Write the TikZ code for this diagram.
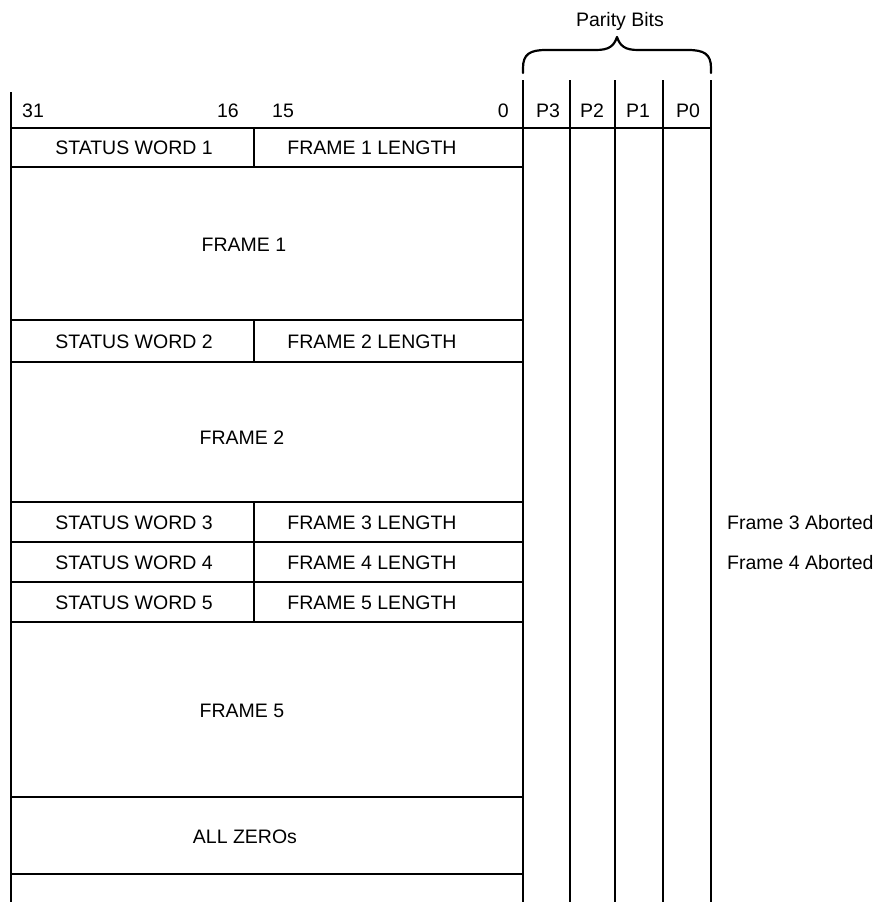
\documentclass[tikz,border=0pt]{standalone}
\usepackage{fontspec}
\setmainfont{Liberation Sans}
\begin{document}
\begin{tikzpicture}[x=1pt,y=-1pt,
  cell/.style={draw, line width=1.7pt, inner sep=0pt, outer sep=0pt, anchor=north west},
  ln/.style={line width=1.7pt},
  txt/.style={inner sep=0pt, anchor=base, font=\fontsize{19.5}{23}\selectfont},
  ltxt/.style={inner sep=0pt, anchor=base west, font=\fontsize{19.5}{23}\selectfont}]
\useasboundingbox (0,0) rectangle (876,902);
% rows
\node[cell, minimum width=243pt, minimum height=39pt] (sw1) at (11,128) {};
\node[cell, minimum width=269pt, minimum height=39pt] (len1) at (254,128) {};
\node[cell, minimum width=512pt, minimum height=153pt] (fr1) at (11,167) {};
\node[cell, minimum width=243pt, minimum height=42pt] (sw2) at (11,320) {};
\node[cell, minimum width=269pt, minimum height=42pt] (len2) at (254,320) {};
\node[cell, minimum width=512pt, minimum height=140pt] (fr2) at (11,362) {};
\node[cell, minimum width=243pt, minimum height=40pt] (sw3) at (11,502) {};
\node[cell, minimum width=269pt, minimum height=40pt] (len3) at (254,502) {};
\node[cell, minimum width=243pt, minimum height=40pt] (sw4) at (11,542) {};
\node[cell, minimum width=269pt, minimum height=40pt] (len4) at (254,542) {};
\node[cell, minimum width=243pt, minimum height=40pt] (sw5) at (11,582) {};
\node[cell, minimum width=269pt, minimum height=40pt] (len5) at (254,582) {};
\node[cell, minimum width=512pt, minimum height=175pt] (fr5) at (11,622) {};
\node[cell, minimum width=512pt, minimum height=77pt] (zeros) at (11,797) {};
% texts in cells
\node[txt] (tsw1) at (134,154) {STATUS WORD 1};
\node[txt] (tlen1) at (372,154) {FRAME 1 LENGTH};
\node[txt] (tfr1) at (244,251) {FRAME 1};
\node[txt] (tsw2) at (134,348) {STATUS WORD 2};
\node[txt] (tlen2) at (372,348) {FRAME 2 LENGTH};
\node[txt] (tfr2) at (242,444) {FRAME 2};
\node[txt] (tsw3) at (134,529) {STATUS WORD 3};
\node[txt] (tlen3) at (372,529) {FRAME 3 LENGTH};
\node[txt] (tsw4) at (134,569) {STATUS WORD 4};
\node[txt] (tlen4) at (372,569) {FRAME 4 LENGTH};
\node[txt] (tsw5) at (134,609) {STATUS WORD 5};
\node[txt] (tlen5) at (372,609) {FRAME 5 LENGTH};
\node[txt] (tfr5) at (242,717) {FRAME 5};
\node[txt] (tzeros) at (245,843) {ALL ZEROs};
% header
\node[txt, anchor=base west] (b31) at (22,117) {31};
\node[txt, anchor=base east] (b16) at (239,117) {16};
\node[txt, anchor=base west] (b15) at (272,117) {15};
\node[txt, anchor=base east] (b0) at (509,117) {0};
\node[txt] (p3) at (548,117) {P3};
\node[txt] (p2) at (592,117) {P2};
\node[txt] (p1) at (638,117) {P1};
\node[txt] (p0) at (688,117) {P0};
\node[txt] (parity) at (620,27) {Parity Bits};
% side notes
\node[ltxt] (ab3) at (727,529) {Frame 3 Aborted};
\node[ltxt] (ab4) at (727,569) {Frame 4 Aborted};
% outer and parity lines
\coordinate (ltop) at (11,92);
\coordinate (lbot) at (11,902);
\coordinate (htr) at (711,128);
\coordinate (htl) at (11,128);
\draw[ln] (ltop) -- (lbot);
\draw[ln] (htl) -- (htr);
\foreach \xx/\nm in {523/a,570/b,615/c,663/d,711/e}{
  \coordinate (t\nm) at (\xx,80);
  \coordinate (u\nm) at (\xx,902);
  \draw[ln] (t\nm) -- (u\nm);
}
% brace
\coordinate (bl) at (523,73);
\coordinate (br) at (711,73);
\coordinate (bc) at (617,37);
\draw[line width=2.2pt, line cap=round, line join=round] (bl) -- (523,68)
  .. controls (523,54) and (530,50) .. (546,50) -- (596,50)
  .. controls (609,50) and (614,46) .. (bc)
  .. controls (620,46) and (625,50) .. (638,50) -- (688,50)
  .. controls (704,50) and (711,54) .. (711,68) -- (br);
\end{tikzpicture}
\end{document}
